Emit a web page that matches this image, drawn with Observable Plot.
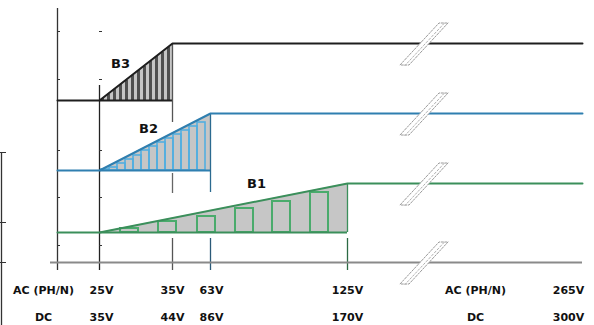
<!DOCTYPE html>
<html>
<head>
<meta charset="utf-8">
<script src="https://cdn.jsdelivr.net/npm/d3@7"></script>
<script src="https://cdn.jsdelivr.net/npm/@observablehq/plot@0.6"></script>
<style>
  html, body { margin: 0; padding: 0; background: #fff; }
  #chart svg { display: block; }
</style>
</head>
<body>
<div id="chart"></div>
<script>
// ---- data (diagram units) ----
const series = ["B3", "B2", "B1"];
const seriesColor = ["#1e1e1e", "#2f7fb0", "#3b8f5b"];
const hatchColor = ["#505050", "#52aee0", "#4aab6c"];
const baseLevel = [100, 170, 232];
const topLevel = [43, 113, 183];
const rampStart = [99, 99, 99];
const rampEnd = [172, 210, 347];
const lineStart = 57;
const lineEnd = 582;
const seriesLabelX = [120, 148, 256];
const seriesLabelY = [63, 128, 183];

// hatch bars inside the ramps
const b3BarLeft = [101, 107, 113, 119, 125, 131, 137, 143, 149, 155, 161, 167];
const b3BarTop = [98, 94, 89, 84, 80, 75, 70, 66, 61, 56, 52, 47];
const b2BarLeft = [101, 109, 117, 125, 133, 141, 149, 157, 165, 173, 181, 189, 197];
const b2BarTop = [169, 167, 163, 159, 155, 150, 146, 142, 138, 134, 130, 126, 122];
const b1BarLeft = [120, 158, 197, 235, 272, 310];
const b1BarTop = [228, 221, 216, 208, 201, 192];

// axis
const axisLevel = 262;
const acLabels = ["AC (PH/N)", "25V", "35V", "63V", "125V", "AC (PH/N)", "265V"];
const dcLabels = ["DC", "35V", "44V", "86V", "170V", "DC", "300V"];
const labelPos = [43, 101, 172, 211, 347, 475, 568];
const acRow = 290;
const dcRow = 317;

// break marks
const breakLevels = [43, 113, 183, 262];

// ---- build tables ----
const lines = series.flatMap((s, i) => [
  {s, x: lineStart, y: baseLevel[i]},
  {s, x: rampStart[i], y: baseLevel[i]},
  {s, x: rampEnd[i], y: topLevel[i]},
  {s, x: lineEnd, y: topLevel[i]}
]);
const ramps = series.flatMap((s, i) => [
  {s, x: rampStart[i], y1: baseLevel[i], y2: baseLevel[i]},
  {s, x: rampEnd[i], y1: baseLevel[i], y2: topLevel[i]}
]);
const bars = (lefts, tops, w, s) => lefts.map((l, j) => ({s, x1: l, x2: l + w, y1: tops[j], y2: baseLevel[series.indexOf(s)]}));
const b3Bars = bars(b3BarLeft, b3BarTop, 3, "B3");
const b2Bars = bars(b2BarLeft, b2BarTop, 8, "B2");
const b1Bars = bars(b1BarLeft, b1BarTop, 18, "B1");

const color = s => seriesColor[series.indexOf(s)];

const breaks = breakLevels.flatMap((c, k) => [
  {k, y: c - 20, x1: 439, x2: 448},
  {k, y: c + 22, x1: 400, x2: 409}
]);

const vRules = [
  {x: 57, y1: 8, y2: 270, c: "#333"},
  {x: 99, y1: 85, y2: 270, c: "#222"},
  {x: 172, y1: 43, y2: 122, c: "#555"},
  {x: 172, y1: 173, y2: 193, c: "#666"},
  {x: 172, y1: 238, y2: 270, c: "#555"},
  {x: 210, y1: 113, y2: 192, c: "#2b6a90"},
  {x: 210, y1: 238, y2: 270, c: "#2b5a78"},
  {x: 347, y1: 183, y2: 232, c: "#3b8f5b"},
  {x: 347, y1: 238, y2: 270, c: "#2c6a44"}
];
const minorTicks = [31, 79, 150, 197, 245];

const labels = labelPos.flatMap((p, i) => [
  {x: p, y: acRow, t: acLabels[i]},
  {x: p, y: dcRow, t: dcLabels[i]}
]);
const seriesLabels = series.map((s, i) => ({t: s, x: seriesLabelX[i], y: seriesLabelY[i]}));
const rampBases = series.map((s, i) => ({s, y: baseLevel[i], x1: rampStart[i], x2: rampEnd[i]}));

const font = "DejaVu Sans, Verdana, sans-serif";

const chart = Plot.plot({
  width: 594,
  height: 325,
  margin: 0,
  x: {domain: [0, 594], range: [0, 594], axis: null},
  y: {domain: [0, 325], range: [0, 325], axis: null},
  style: {fontFamily: font, background: "#fff"},
  marks: [
    // ramp fills
    Plot.areaY(ramps, {x: "x", y1: "y1", y2: "y2", z: "s", fill: "#c6c6c6"}),
    // hatching
    Plot.rect(b3Bars, {x1: "x1", x2: "x2", y1: "y1", y2: "y2", fill: hatchColor[0]}),
    Plot.rect(b2Bars, {x1: "x1", x2: "x2", y1: "y1", y2: "y2", fill: "none", stroke: hatchColor[1], strokeWidth: 1.6}),
    Plot.rect(b1Bars, {x1: "x1", x2: "x2", y1: "y1", y2: "y2", fill: "none", stroke: hatchColor[2], strokeWidth: 2}),
    // baselines of ramps
    Plot.ruleY(rampBases, {y: "y", x1: "x1", x2: "x2", stroke: d => color(d.s), strokeWidth: 2}),
    // vertical rules
    Plot.ruleX(vRules, {x: "x", y1: "y1", y2: "y2", stroke: "c", strokeWidth: 1.3}),
    Plot.ruleY(minorTicks, {y: d => d, x1: () => 57, x2: () => 60, stroke: "#333"}),
    Plot.ruleY(minorTicks, {y: d => d, x1: () => 99, x2: () => 102, stroke: "#333"}),
    // level lines
    Plot.line(lines, {x: "x", y: "y", z: "s", stroke: d => color(d.s), strokeWidth: 2}),
    // axis line
    Plot.ruleY([axisLevel], {y: d => d, x1: () => 50, x2: () => lineEnd, stroke: "#8a8a8a", strokeWidth: 2}),
    // left cut frame
    Plot.ruleX([1], {x: d => d, y1: () => 152, y2: () => 325, stroke: "#333", strokeWidth: 1.3}),
    Plot.ruleY([152, 222, 262], {y: d => d, x1: () => 0, x2: () => 6, stroke: "#333"}),
    // break marks
    Plot.areaX(breaks, {y: "y", x1: "x1", x2: "x2", z: "k", fill: "#fff", stroke: "#9a9a9a", strokeWidth: 1, strokeDasharray: "2,1.5"}),
    Plot.line(breaks, {y: "y", x: d => (d.x1 + d.x2) / 2, z: "k", stroke: "#b0b0b0", strokeWidth: 1, strokeDasharray: "2,2"}),
    // series labels
    Plot.text(seriesLabels, {x: "x", y: "y", text: "t", fontSize: 13, fontWeight: "bold", fill: "#111", fontFamily: font}),
    // axis labels
    Plot.text(labels, {x: "x", y: "y", text: "t", fontSize: 11, fontWeight: "bold", fill: "#111", fontFamily: font})
  ]
});
document.getElementById("chart").append(chart);
</script>
</body>
</html>
